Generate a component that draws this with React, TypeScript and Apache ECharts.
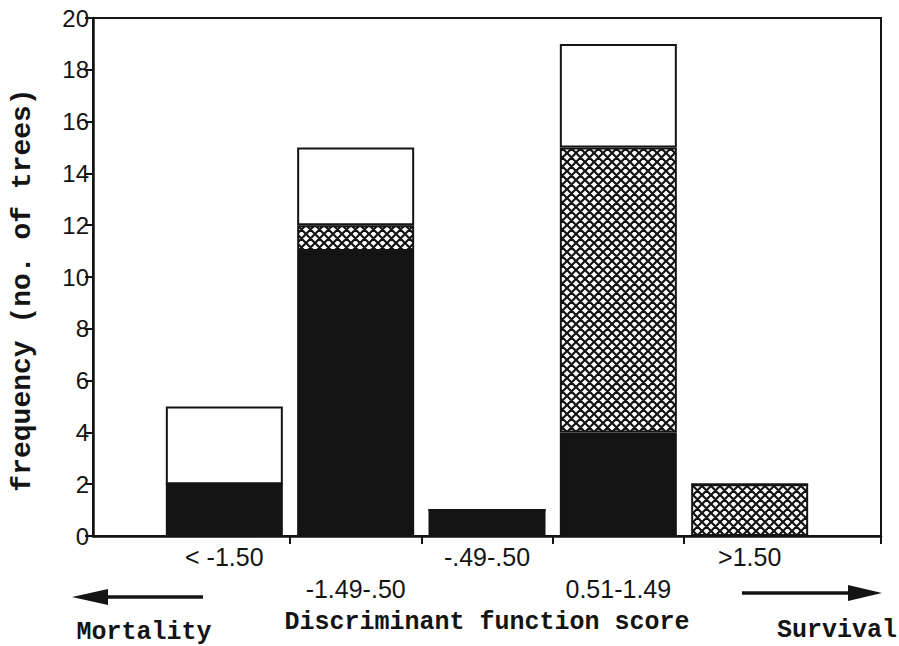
import React, { useEffect, useRef } from 'react';
import * as echarts from 'echarts';

// Category labels (discriminant function score classes)
const categories = ['< -1.50', '-1.49-.50', '-.49-.50', '0.51-1.49', '>1.50'];
// Category centres on the value x axis (0..6)
const positions = [1, 2, 3, 4, 5];
// Stacked frequencies (no. of trees)
const solidValues = [2, 11, 1, 4, 0];
const hatchedValues = [0, 1, 0, 11, 2];
const openValues = [3, 3, 0, 4, 0];
// Axis ticks
const xTickValues = [1.5, 2.5, 3.5, 4.5, 6];
const yMin = 0;
const yMax = 20;
const yInterval = 2;

const INK = '#141414';
const MONO = '"Liberation Mono", "Courier New", monospace';
const SANS = '"Liberation Sans", Arial, sans-serif';

function makeHatch(): HTMLCanvasElement {
  const P = 9;
  const c = document.createElement('canvas');
  c.width = P;
  c.height = P;
  const ctx = c.getContext('2d')!;
  ctx.fillStyle = '#ffffff';
  ctx.fillRect(0, 0, P, P);
  ctx.strokeStyle = INK;
  ctx.lineWidth = 2.2;
  ctx.beginPath();
  for (const o of [-P, 0, P]) {
    ctx.moveTo(o, 0);
    ctx.lineTo(o + P, P);
    ctx.moveTo(o + P, 0);
    ctx.lineTo(o, P);
  }
  ctx.stroke();
  return c;
}

export default function App() {
  const ref = useRef<HTMLDivElement>(null);

  useEffect(() => {
    if (!ref.current) return;
    const chart = echarts.init(ref.current, null, { renderer: 'svg' });
    const hatch = makeHatch();
    // padded with empty slots at both ends (axis runs 0..6, bars at 1..5)
    const pad = (vals: number[]) => ['-', ...vals, '-'];
    const barBase = {
      type: 'bar' as const,
      stack: 'trees',
      barWidth: 117,
      xAxisIndex: 0,
      yAxisIndex: 0,
      emphasis: { disabled: true },
    };
    const border = { borderColor: INK, borderWidth: 2 };

    chart.setOption({
      animation: false,
      backgroundColor: '#ffffff',
      grid: {
        left: 93,
        right: 18,
        top: 18,
        bottom: 110,
        outerBoundsMode: 'none',
        containLabel: false,
        show: true,
        borderColor: INK,
        borderWidth: 2,
        backgroundColor: 'transparent',
      },
      xAxis: [
        {
          type: 'category',
          data: ['', ...categories, ''],
          boundaryGap: false,
          show: false,
        },
        {
          type: 'value',
          min: 0,
          max: 6,
          position: 'bottom',
          name: 'Discriminant function score',
          nameLocation: 'middle',
          nameGap: 74,
          nameTextStyle: { fontFamily: MONO, fontWeight: 'bold', fontSize: 25, color: INK },
          axisLine: { show: true, lineStyle: { color: INK, width: 2.5 } },
          axisTick: { show: true, length: 8, customValues: xTickValues, lineStyle: { color: INK, width: 2 } },
          axisLabel: {
            customValues: positions,
            formatter: (v: number) => {
              const idx = Math.round(v) - 1;
              const txt = categories[idx] ?? '';
              return idx % 2 === 1 ? '\n' + txt : txt;
            },
            fontFamily: SANS,
            fontSize: 25,
            lineHeight: 32,
            color: INK,
            margin: 5,
          },
          splitLine: { show: false },
        },
      ],
      yAxis: {
        type: 'value',
        min: yMin,
        max: yMax,
        interval: yInterval,
        axisLine: { show: true, lineStyle: { color: INK, width: 2.5 } },
        axisTick: { show: true, length: 8, lineStyle: { color: INK, width: 2 } },
        axisLabel: { fontFamily: SANS, fontSize: 24, color: INK, margin: 4 },
        splitLine: { show: false },
      },
      series: [
        { ...barBase, name: 'solid', data: pad(solidValues), itemStyle: { ...border, color: INK } },
        {
          ...barBase,
          name: 'hatched',
          data: pad(hatchedValues),
          itemStyle: { ...border, color: { image: hatch, repeat: 'repeat' } },
        },
        { ...barBase, name: 'open', data: pad(openValues), itemStyle: { ...border, color: '#ffffff' } },
      ],
      graphic: [
        {
          type: 'text',
          x: 22,
          y: 290,
          rotation: Math.PI / 2,
          style: {
            text: 'frequency (no. of trees)',
            fontFamily: MONO,
            fontWeight: 'bold',
            fontSize: 28,
            fill: INK,
            align: 'center',
            verticalAlign: 'middle',
          },
        },
        { type: 'line', shape: { x1: 100, y1: 597, x2: 203, y2: 597 }, style: { stroke: INK, lineWidth: 3.5 } },
        { type: 'polygon', shape: { points: [[72, 597], [108, 589], [108, 605]] }, style: { fill: INK } },
        { type: 'line', shape: { x1: 742, y1: 593, x2: 852, y2: 593 }, style: { stroke: INK, lineWidth: 3.5 } },
        { type: 'polygon', shape: { points: [[882, 593], [848, 585], [848, 601]] }, style: { fill: INK } },
        {
          type: 'text',
          x: 144,
          y: 632,
          style: { text: 'Mortality', fontFamily: MONO, fontWeight: 'bold', fontSize: 25, fill: INK, align: 'center', verticalAlign: 'middle' },
        },
        {
          type: 'text',
          x: 837,
          y: 630,
          style: { text: 'Survival', fontFamily: MONO, fontWeight: 'bold', fontSize: 25, fill: INK, align: 'center', verticalAlign: 'middle' },
        },
      ],
    });

    return () => chart.dispose();
  }, []);

  return <div ref={ref} style={{ position: 'fixed', left: 0, top: 0, width: 899, height: 646 }} />;
}
